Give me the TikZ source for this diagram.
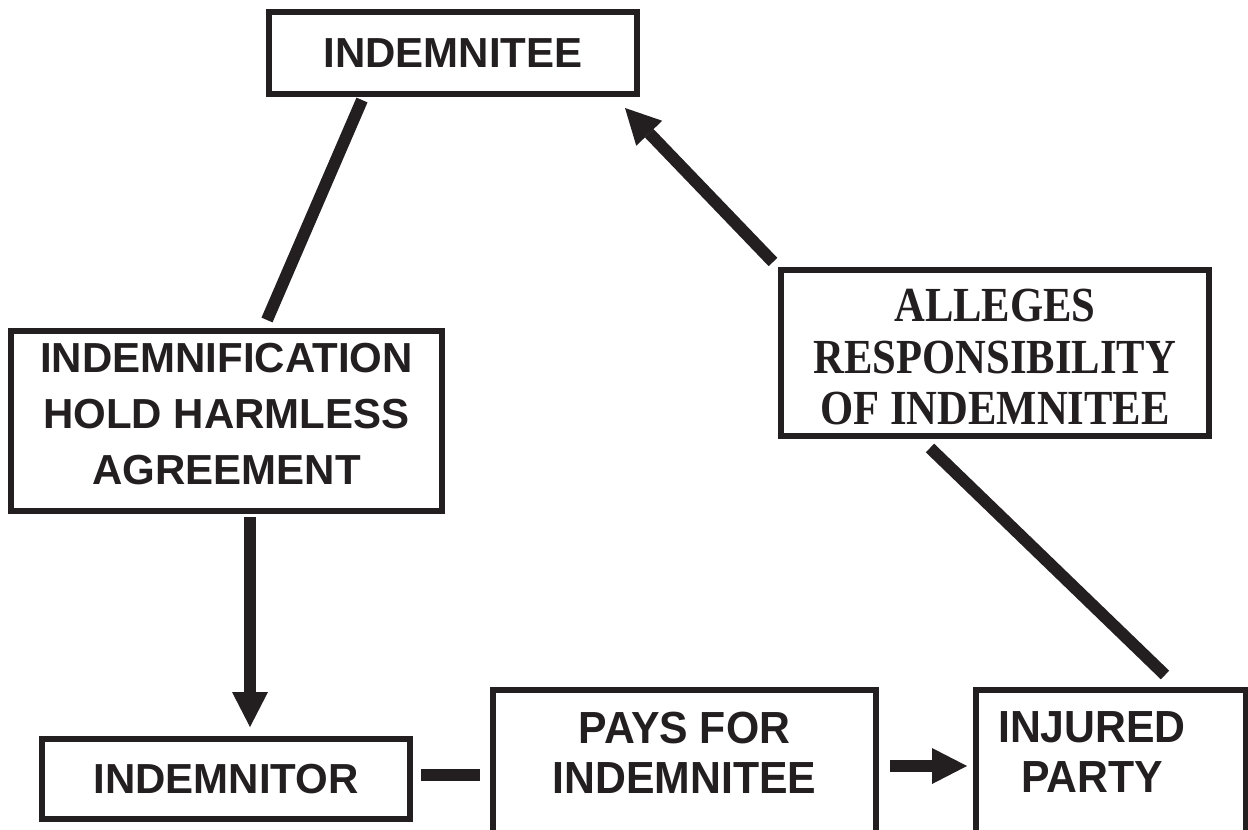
\documentclass[tikz,border=0pt]{standalone}
\usepackage{fontspec}
\setsansfont{Liberation Sans}
\newfontfamily\narrowsans{Liberation Sans}[FakeStretch=0.95]
\newfontfamily\tallserif{Liberation Serif}[FakeStretch=0.87]
\usetikzlibrary{arrows.meta,calc}
\definecolor{ink}{RGB}{35,31,32}

\begin{document}
\begin{tikzpicture}[x=1pt,y=-1pt,
  box/.style={draw=ink, line width=6pt, rectangle, inner sep=0pt, text=ink, align=center},
  label text/.style={text=ink, inner sep=0pt, align=center},
  sans/.style={font=\fontsize{42}{56}\selectfont\sffamily\bfseries},
  sansn/.style={font=\fontsize{45}{50}\selectfont\narrowsans\bfseries},
  serif/.style={font=\fontsize{49}{51.7}\selectfont\tallserif\bfseries},
  link/.style={draw=ink, line width=12pt},
  arrowlink/.style={link, -{Triangle[width=36pt,length=35pt,line width=0pt]}},
]
\useasboundingbox (0,0) rectangle (1248,830);
\clip (0,0) rectangle (1248,830);

% parties and agreements
\node[box,sans,minimum width=368pt,minimum height=82pt] (top) at (453,53) {INDEMNITEE};
\node[box,sans,minimum width=431pt,minimum height=180pt] (agr) at (226.5,421)
  {INDEMNIFICATION\\HOLD HARMLESS\\AGREEMENT\rule[-14pt]{0pt}{14pt}};
\node[box,serif,minimum width=428pt,minimum height=166pt] (all) at (995,353)
  {\rule{0pt}{41pt}ALLEGES\\RESPONSIBILITY\\OF INDEMNITEE};
\node[box,sans,minimum width=368pt,minimum height=80pt] (itor) at (226,779) {INDEMNITOR};

% the two lower boxes run past the bottom edge
\node[box,minimum width=383pt,minimum height=170pt] (pays) at (684.5,775) {};
\node[box,minimum width=270pt,minimum height=170pt] (inj) at (1110.5,775) {};
\node[label text,sansn] (paystext) at (684.5,752.5) {PAYS FOR\\INDEMNITEE};
\node[label text,sansn] (injtext) at (1092,752.5) {INJURED\\PARTY};

% connectors
\draw[link] ($(top.south west)+(96,3)$) -- ($(agr.north west)+(259,-8)$);
\draw[arrowlink] ($(agr.south)+(23.5,3)$) -- ($(itor.north)+(24,-9)$);
\draw[arrowlink] ($(all.north west)+(-5,-5)$) -- ($(top.south east)+(-15,11)$);
\draw[link] ($(all.south west)+(152,9)$) -- ($(inj.north east)+(-83.5,-12)$);
\draw[link] ($(itor.east)+(8,-4)$) -- ($(pays.west)+(-10.5,0)$);
\draw[arrowlink] ($(pays.east)+(11,-9)$) -- ($(inj.west)+(-5.5,-9)$);
\end{tikzpicture}
\end{document}
